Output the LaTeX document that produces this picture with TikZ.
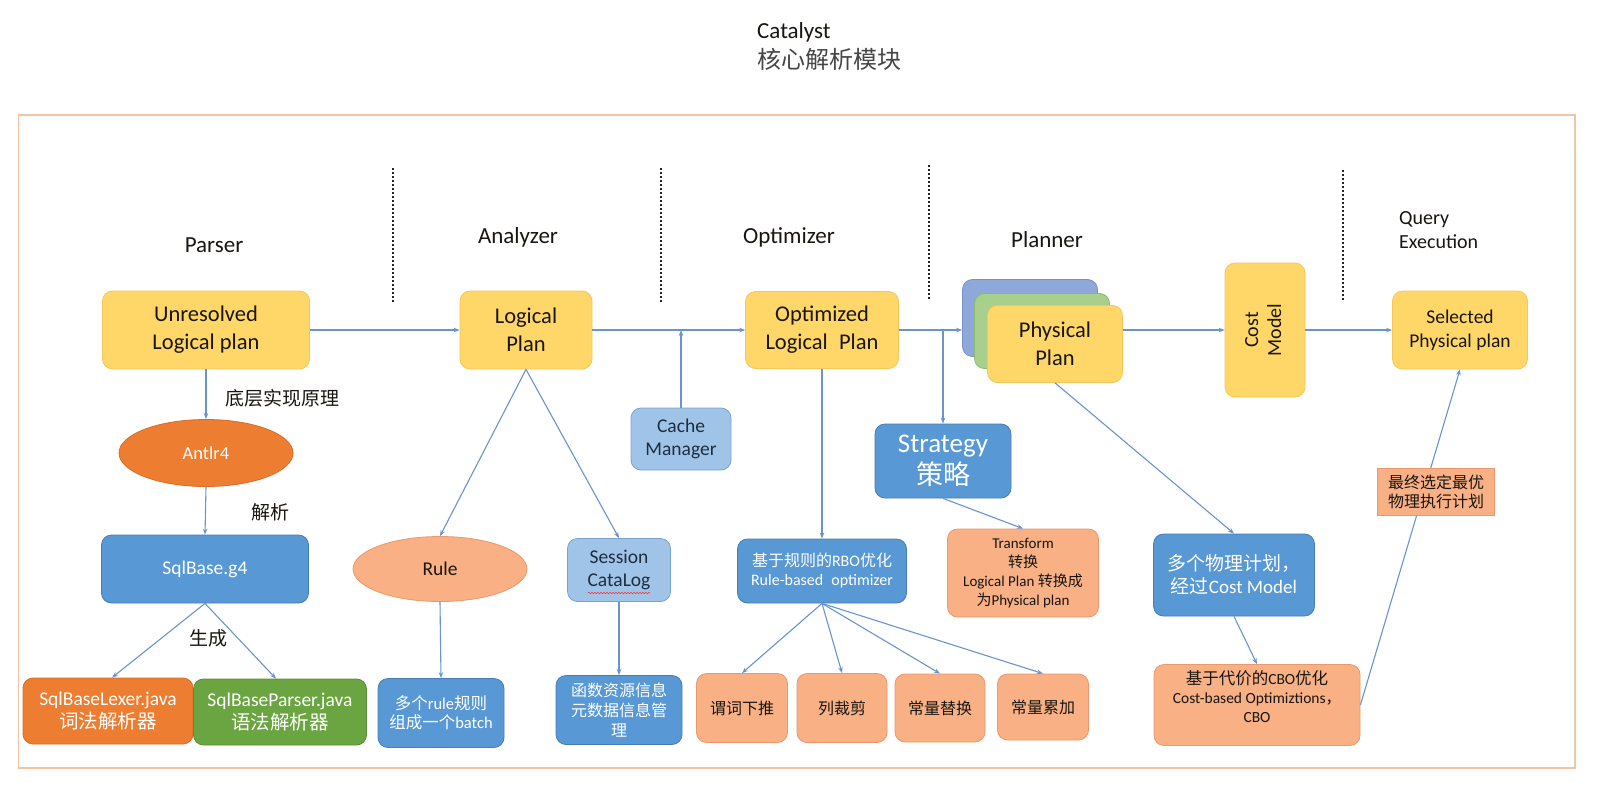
\documentclass[tikz,border=0pt]{standalone}
\usepackage{fontspec}
\setmainfont{Carlito}
\newfontfamily\cjk{Noto Sans CJK SC}
\usetikzlibrary{shapes.geometric,arrows.meta,decorations.pathmorphing,calc}

\definecolor{yel}{RGB}{255,215,105}
\definecolor{yeld}{RGB}{246,198,88}
\definecolor{blu}{RGB}{88,152,212}
\definecolor{blud}{RGB}{72,125,180}
\definecolor{lblu}{RGB}{160,196,232}
\definecolor{lblud}{RGB}{122,162,208}
\definecolor{org}{RGB}{237,125,49}
\definecolor{orgd}{RGB}{218,108,38}
\definecolor{grn}{RGB}{107,165,66}
\definecolor{grnd}{RGB}{88,142,52}
\definecolor{sal}{RGB}{248,176,132}
\definecolor{sald}{RGB}{236,152,108}
\definecolor{pblu}{RGB}{143,168,218}
\definecolor{pblud}{RGB}{120,145,200}
\definecolor{pgrn}{RGB}{168,207,140}
\definecolor{pgrnd}{RGB}{140,185,112}
\definecolor{frm}{RGB}{242,196,165}
\definecolor{con}{RGB}{105,148,205}
\definecolor{txt}{RGB}{25,22,18}
\definecolor{ltxt}{RGB}{30,45,65}
\definecolor{subt}{RGB}{70,70,70}

\begin{document}
\begin{tikzpicture}[x=1pt,y=-1pt,
  every node/.style={inner sep=0pt, align=center, text=txt},
  box/.style={rounded corners=10pt, draw, line width=0.8pt},
  ybox/.style={box, fill=yel, draw=yeld, font=\fontsize{22.5}{28}\selectfont},
  bbox/.style={box, fill=blu, draw=blud, text=white},
  lbbox/.style={box, fill=lblu, draw=lblud, text=ltxt, font=\fontsize{19.5}{23}\selectfont},
  sbox/.style={box, fill=sal, draw=sald, text=txt},
  hdr/.style={font=\fontsize{23}{28}\selectfont},
  lbl/.style={font=\cjk\fontsize{19}{23}\selectfont},
  sepline/.style={line width=1.5pt, dash pattern=on 2pt off 2pt, black!85},
  con/.style={draw=con, line width=1.1pt, -{Stealth[length=6pt,width=4.5pt]}},
  conplain/.style={draw=con, line width=1.1pt}
]
\useasboundingbox (0,0) rectangle (1616,792);
\fill[white] (0,0) rectangle (1616,792);

% title
\node[font=\fontsize{23}{28}\selectfont, anchor=base west] (title) at (757,38) {Catalyst};
\node[font=\cjk\fontsize{24}{28}\selectfont, text=subt, anchor=base west] (subtitle) at (757,69) {核心解析模块};

% frame
\draw[frm, line width=1.6pt] (18.5,115) rectangle (1575,768);

% headers
\node[hdr] (hparser) at (214,245) {Parser};
\node[hdr] (hanalyzer) at (518,237) {Analyzer};
\node[hdr] (hoptimizer) at (789,237) {Optimizer};
\node[hdr] (hplanner) at (1047,240) {Planner};
\node[font=\fontsize{20}{24}\selectfont, anchor=north west, align=left] (hquery) at (1399,211) {Query\\Execution};

% separators
\draw[sepline] (393,168) -- (393,303);
\draw[sepline] (661,168) -- (661,303);
\draw[sepline] (929,165) -- (929,300);
\draw[sepline] (1343,170) -- (1343,300);

% Parser column
\node[ybox, minimum width=207pt, minimum height=78pt] (unres) at (206,330) {Unresolved\\Logical plan};
\node[ellipse, fill=org, draw=orgd, line width=0.8pt, minimum width=174pt, minimum height=67pt, text=white, font=\fontsize{18.5}{22}\selectfont] (antlr) at (206,453) {Antlr4};
\node[bbox, minimum width=207pt, minimum height=68pt, font=\fontsize{19.5}{23}\selectfont] (sqlb) at (205,569) {SqlBase.g4};
\node[box, fill=org, draw=orgd, text=white, minimum width=170pt, minimum height=66pt, font=\fontsize{19.5}{23}\selectfont] (lexer) at (108,711) {SqlBaseLexer.java\\{\cjk 词法解析器}};
\node[box, fill=grn, draw=grnd, text=white, minimum width=173pt, minimum height=66pt, font=\fontsize{19.5}{23}\selectfont] (sparser) at (280,712) {SqlBaseParser.java\\{\cjk 语法解析器}};

\node[lbl] (l1) at (282,398) {底层实现原理};
\node[lbl] (l2) at (270,512) {解析};
\node[lbl] (l3) at (208,638) {生成};

\draw[con] (unres.south) -- (antlr.north);
\draw[con] (antlr.south) -- (sqlb.north);
\draw[con] (sqlb.south) -- ($(lexer.north)+(4,0)$);
\draw[con] (sqlb.south) -- ($(sparser.north)+(-4,0)$);

% Analyzer column
\node[ybox, minimum width=132pt, minimum height=78pt] (lp) at (526,330) {Logical\\Plan};
\node[ellipse, fill=sal, draw=sald, line width=0.8pt, minimum width=174pt, minimum height=65pt, font=\fontsize{19.5}{23}\selectfont] (rule) at (440,569) {Rule};
\node[lbbox, minimum width=103pt, minimum height=63pt] (sess) at (619,570) {Session\\CataLog};
\draw[red!80, line width=0.6pt, decorate, decoration={snake, amplitude=0.7pt, segment length=3pt}] (588,593) -- (650,593);
\node[bbox, minimum width=126pt, minimum height=69pt, font=\fontsize{16.5}{19.5}\selectfont] (batch) at (441,713) {{\cjk 多个}rule{\cjk 规则}\\{\cjk 组成一个}batch};
\node[bbox, minimum width=126pt, minimum height=69pt, font=\cjk\fontsize{16}{20}\selectfont] (func) at (619,710) {函数资源信息\\元数据信息管\\理};

\draw[con] (unres.east) -- (lp.west);
\draw[con] (lp.south) -- (rule.north);
\draw[con] (lp.south) -- (sess.north);
\draw[con] (rule.south) -- (batch.north);
\draw[con] (sess.south) -- (func.north);

% Optimizer column
\node[lbbox, minimum width=100pt, minimum height=62pt] (cache) at (681,439) {Cache\\Manager};
\node[ybox, minimum width=153pt, minimum height=77pt] (opt) at (822,330) {Optimized\\Logical\enspace Plan};
\node[bbox, minimum width=169pt, minimum height=64pt, font=\fontsize{16}{19}\selectfont] (rbo) at (822,571) {{\cjk 基于规则的}RBO{\cjk 优化}\\Rule-based\enspace optimizer};
\node[sbox, minimum width=91pt, minimum height=69pt, font=\cjk\fontsize{16}{20}\selectfont] (r1) at (742,708) {谓词下推};
\node[sbox, minimum width=90pt, minimum height=69pt, font=\cjk\fontsize{16}{20}\selectfont] (r2) at (842,708) {列裁剪};
\node[sbox, minimum width=90pt, minimum height=68pt, font=\cjk\fontsize{16}{20}\selectfont] (r3) at (940,708) {常量替换};
\node[sbox, minimum width=91pt, minimum height=66pt, font=\cjk\fontsize{16}{20}\selectfont] (r4) at (1043,707) {常量累加};

\draw[con] (lp.east) -- (opt.west);
\draw[con] (cache.north) -- (cache.north |- opt.west);
\draw[con] (opt.south) -- (rbo.north);
\draw[con] (rbo.south) -- (r1.north);
\draw[con] (rbo.south) -- (r2.north);
\draw[con] (rbo.south) -- (r3.north);
\draw[con] (rbo.south) -- (r4.north);

% Planner column
\node[box, fill=pblu, draw=pblud, minimum width=135pt, minimum height=77pt] (physB) at (1030,318) {};
\node[box, fill=pgrn, draw=pgrnd, minimum width=135pt, minimum height=75pt] (physG) at (1042,331) {};
\node[ybox, minimum width=135pt, minimum height=77pt] (physY) at (1055,344) {Physical\\Plan};
\node[bbox, minimum width=136pt, minimum height=74pt, font=\fontsize{27}{32}\selectfont] (strat) at (943,461) {Strategy\\{\cjk 策略}};
\node[sbox, minimum width=151pt, minimum height=88pt, font=\fontsize{15}{19}\selectfont] (trans) at (1023,573) {Transform\\{\cjk 转换}\\Logical Plan {\cjk 转换成}\\{\cjk 为}Physical plan};
\coordinate (br) at (943,330);

\draw[con] (opt.east) -- (opt.east -| physB.west);
\draw[con] (br) -- (strat.north);
\draw[con] (strat.south) -- (trans.north);

% Cost model & execution
\node[ybox, minimum width=80pt, minimum height=134pt, font=\fontsize{20}{23}\selectfont] (cost) at (1265,330) {\rotatebox{90}{\begin{tabular}{@{}c@{}}Cost\\Model\end{tabular}}};
\node[ybox, minimum width=135pt, minimum height=78pt, font=\fontsize{19.5}{24}\selectfont] (sel) at (1460,330) {Selected\\Physical plan};
\node[bbox, minimum width=161pt, minimum height=82pt, font=\fontsize{19}{23}\selectfont] (multi) at (1234,575) {{\cjk 多个物理计划，}\\{\cjk 经过}Cost Model};
\node[sbox, minimum width=206pt, minimum height=81pt] (cbo) at (1257,705) {};
\node[font=\fontsize{15.5}{19}\selectfont] (cbot) at (1257,697) {{\cjk\fontsize{16.5}{19}\selectfont 基于代价的}CBO{\cjk\fontsize{16.5}{19}\selectfont 优化}\\Cost-based Optimiztions{\cjk ，}\\CBO};

\draw[con] (physY.east |- cost.west) -- (cost.west);
\draw[con] (cost.east) -- (sel.west);
\draw[con] (physY.south) -- (multi.north);
\draw[con] (multi.south) -- (cbo.north);
\draw[con] (cbo.east) -- (sel.south);

\node[fill=sal, draw=sald, line width=0.6pt, minimum width=117pt, minimum height=47pt, font=\cjk\fontsize{16}{19}\selectfont] (final) at (1436,492) {最终选定最优\\物理执行计划};
\end{tikzpicture}
\end{document}
